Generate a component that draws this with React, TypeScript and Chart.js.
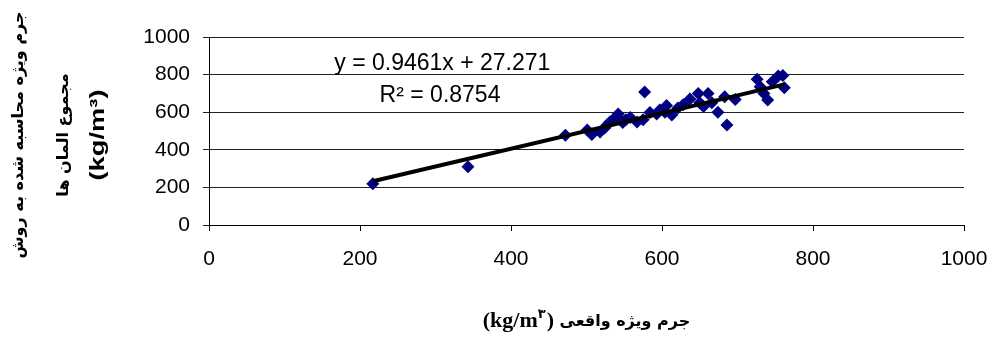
import React, { useEffect, useRef } from "react";
import { Chart, registerables } from "chart.js";

Chart.register(...registerables);

// Actual density (kg/m3) – x
const actualDensity = [
  217, 343, 472, 501, 507, 518, 524, 527, 531, 535, 540, 542, 548, 552, 558, 567,
  577, 575, 584, 593, 597, 604, 606, 613, 621, 628, 637, 648, 650, 655, 661, 666,
  674, 683, 686, 697, 726, 730, 735, 740, 746, 754, 760, 762,
];
// Computed density by element-sum method (kg/m3) – y
const computedDensity = [
  220, 310, 478, 505, 482, 495, 516, 530, 548, 560, 575, 590, 545, 560, 572, 548,
  707, 560, 598, 590, 612, 600, 635, 585, 622, 640, 670, 700, 650, 630, 700, 650,
  600, 682, 532, 668, 775, 735, 700, 665, 762, 792, 795, 730,
];

const xTickValues = [0, 200, 400, 600, 800, 1000];
const yTickValues = [0, 200, 400, 600, 800, 1000];

const trendSlope = 0.9461;
const trendIntercept = 27.271;

const equationText = "y = 0.9461x + 27.271";
const r2Text = "R\u00B2 = 0.8754";
const xTitleUnitA = "(kg/m";
const xTitleUnitSup = "\u06F3";
const xTitleUnitB = ") ";
const xTitleText = "جرم ویژه واقعی";
const yTitleLine1 = "جرم ویژه محاسبه شده به روش";
const yTitleLine2 = "مجموع المان ها";
const yTitleLine3 = "(kg/m\u00B3)";

const MARKER = "#000080";

const titlesPlugin = {
  id: "customTitles",
  afterDraw(chart: any) {
    const { ctx, chartArea, scales } = chart;
    const sx = scales.x;
    const sy = scales.y;
    ctx.save();
    ctx.fillStyle = "#000";
    ctx.textBaseline = "middle";

    // Trendline equation
    ctx.font = '23px "Liberation Sans", Arial, sans-serif';
    ctx.textAlign = "center";
    ctx.fillText(equationText, sx.getPixelForValue(309), sy.getPixelForValue(858));
    ctx.fillText(r2Text, sx.getPixelForValue(306), sy.getPixelForValue(688));

    // Y title (rotated)
    const cy = (chartArea.top + chartArea.bottom) / 2;
    const yLines: [string, string, number, number][] = [
      [yTitleLine1, 'bold 16px "DejaVu Sans", sans-serif', 19, 1],
      [yTitleLine2, 'bold 16px "DejaVu Sans", sans-serif', 64, 1],
      [yTitleLine3, '900 21px "Liberation Sans", Arial, sans-serif', 98, 1.3],
    ];
    for (const [text, font, x, stretch] of yLines) {
      ctx.save();
      ctx.translate(x, cy + 4);
      ctx.rotate(-Math.PI / 2);
      ctx.scale(stretch, 1);
      ctx.font = font;
      ctx.textAlign = "center";
      ctx.fillText(text, 0, 0);
      ctx.restore();
    }

    // X title
    const cx = (chartArea.left + chartArea.right) / 2;
    const ty = 321;
    const fA = 'bold 22px "Liberation Serif", serif';
    const fS = 'bold 13px "DejaVu Sans", serif';
    const fT = 'bold 16px "DejaVu Sans", sans-serif';
    ctx.font = fA;
    const wA = ctx.measureText(xTitleUnitA).width;
    const wB = ctx.measureText(xTitleUnitB).width;
    ctx.font = fS;
    const wS = ctx.measureText(xTitleUnitSup).width + 1;
    ctx.font = fT;
    const wT = ctx.measureText(xTitleText).width;
    const total = wA + wS + wB + wT;
    let x = cx - total / 2;
    ctx.textAlign = "left";
    ctx.font = fA;
    ctx.fillText(xTitleUnitA, x, ty);
    x += wA;
    ctx.font = fS;
    ctx.fillText(xTitleUnitSup, x, ty - 6);
    x += wS;
    ctx.font = fA;
    ctx.fillText(xTitleUnitB, x, ty);
    x += wB;
    ctx.font = fT;
    ctx.fillText(xTitleText, x, ty + 1);

    ctx.restore();
  },
};

export default function App() {
  const canvasRef = useRef<HTMLCanvasElement | null>(null);

  useEffect(() => {
    document.body.style.margin = "0";
    const canvas = canvasRef.current;
    if (!canvas) return;

    const points = actualDensity.map((v, i) => ({ x: v, y: computedDensity[i] }));
    const xMin = Math.min(...actualDensity);
    const xMax = Math.max(...actualDensity);
    const trend = [
      { x: xMin, y: trendSlope * xMin + trendIntercept },
      { x: xMax, y: trendSlope * xMax + trendIntercept },
    ];

    const tickFont = { family: '"Liberation Sans", Arial, sans-serif', size: 21 };

    const chart = new Chart(canvas, {
      type: "scatter",
      data: {
        datasets: [
          {
            type: "line",
            label: "Linear",
            data: trend,
            borderColor: "#000",
            borderWidth: 4,
            pointRadius: 0,
            showLine: true,
            fill: false,
            order: 0,
          } as any,
          {
            type: "scatter",
            label: "Data",
            data: points,
            pointStyle: "rectRot",
            pointRadius: 6.5,
            backgroundColor: MARKER,
            borderColor: MARKER,
            borderWidth: 0,
            order: 1,
          },
        ],
      },
      options: {
        responsive: false,
        animation: false,
        layout: { padding: { left: 134, right: 29, top: 37, bottom: 72 } },
        plugins: {
          legend: { display: false },
          tooltip: { enabled: false },
          title: { display: false },
        },
        scales: {
          x: {
            type: "linear",
            min: 0,
            max: 1000,
            afterBuildTicks: (s: any) => {
              s.ticks = xTickValues.map((v) => ({ value: v }));
            },
            afterFit: (s: any) => {
              s.height = 40;
              s.paddingLeft = 0;
              s.paddingRight = 0;
            },
            ticks: {
              color: "#000",
              font: tickFont,
              padding: 16,
              maxRotation: 0,
              callback: (v: any) => String(v),
            },
            grid: {
              drawOnChartArea: false,
              drawTicks: true,
              tickLength: 6,
              color: "#000",
            },
            border: { color: "#000", width: 1 },
          },
          y: {
            type: "linear",
            min: 0,
            max: 1000,
            afterBuildTicks: (s: any) => {
              s.ticks = yTickValues.map((v) => ({ value: v }));
            },
            afterFit: (s: any) => {
              s.width = 75;
              s.paddingTop = 0;
              s.paddingBottom = 0;
            },
            ticks: {
              color: "#000",
              font: tickFont,
              padding: 13,
              callback: (v: any) => String(v),
            },
            grid: {
              drawTicks: true,
              tickLength: 6,
              color: "#222",
            },
            border: { color: "#000", width: 1 },
          },
        },
      },
      plugins: [titlesPlugin],
    } as any);

    return () => chart.destroy();
  }, []);

  return (
    <div style={{ width: 993, height: 337, background: "#fff" }}>
      <canvas ref={canvasRef} width={993} height={337} />
    </div>
  );
}
